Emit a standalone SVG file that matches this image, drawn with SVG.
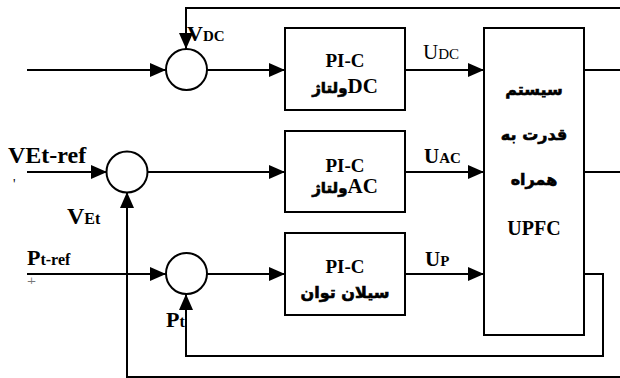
<svg xmlns="http://www.w3.org/2000/svg" width="620" height="378" viewBox="0 0 620 378">
<style>
.ln{fill:none;stroke:#000;stroke-width:2}
.bx{fill:#fff;stroke:#000;stroke-width:2}
.sum{fill:#fff;stroke:#000;stroke-width:2}
.t{font-family:'Liberation Serif','DejaVu Sans',serif;font-weight:bold;fill:#000}
.fa{font-family:'DejaVu Sans','Liberation Serif',sans-serif;font-weight:bold;fill:#000;stroke:#000;stroke-width:0.6}
.r{font-weight:normal}
</style>
<defs>
<marker id="ah" markerUnits="userSpaceOnUse" markerWidth="16" markerHeight="14" refX="16" refY="7" orient="auto">
<path d="M0,0 L16,7 L0,14 z" fill="#000"/>
</marker>
<clipPath id="pc"><rect x="20" y="276" width="30" height="8"/></clipPath>
</defs>
<rect width="620" height="378" fill="#fff"/>
<g id="connectors">
<path class="ln" d="M27,70 H166" marker-end="url(#ah)"/>
<path class="ln" d="M207,70 H285" marker-end="url(#ah)"/>
<path class="ln" d="M405,70 H484" marker-end="url(#ah)"/>
<path class="ln" d="M584,70 H620"/>
<path class="ln" d="M620,8 H186 V49" marker-end="url(#ah)"/>
<path class="ln" d="M27,172 H107" marker-end="url(#ah)"/>
<path class="ln" d="M147,172 H285" marker-end="url(#ah)"/>
<path class="ln" d="M405,172 H484" marker-end="url(#ah)"/>
<path class="ln" d="M584,172 H620"/>
<path class="ln" d="M620,377 H127 V192" marker-end="url(#ah)"/>
<path class="ln" d="M27,274 H166" marker-end="url(#ah)"/>
<path class="ln" d="M207,274 H285" marker-end="url(#ah)"/>
<path class="ln" d="M405,274 H484" marker-end="url(#ah)"/>
<path class="ln" d="M584,274 H603 V356 H186 V294" marker-end="url(#ah)"/>
</g>
<g id="sum-dc"><circle class="sum" cx="186.5" cy="69.5" r="20.5"/></g>
<g id="sum-ac"><circle class="sum" cx="127" cy="172" r="20.5"/></g>
<g id="sum-p"><circle class="sum" cx="186.5" cy="273.5" r="20.5"/></g>
<g id="pi-dc">
<rect class="bx" x="285" y="28" width="120" height="82"/>
<text class="t" x="345" y="67" font-size="19" text-anchor="middle">PI-C</text>
<text class="t" x="345" y="93" text-anchor="middle" direction="rtl"><tspan font-size="21">DC</tspan><tspan class="fa" font-size="15">ولتاژ</tspan></text>
</g>
<g id="pi-ac">
<rect class="bx" x="285" y="131" width="120" height="81"/>
<text class="t" x="345" y="172" font-size="19" text-anchor="middle">PI-C</text>
<text class="t" x="345" y="193" text-anchor="middle" direction="rtl"><tspan font-size="21">AC</tspan><tspan class="fa" font-size="15">ولتاژ</tspan></text>
</g>
<g id="pi-p">
<rect class="bx" x="285" y="233" width="120" height="82"/>
<text class="t" x="345" y="273" font-size="19" text-anchor="middle">PI-C</text>
<text class="fa" x="345" y="298" font-size="16" text-anchor="middle" direction="rtl">سیلان توان</text>
</g>
<g id="upfc">
<rect class="bx" x="484" y="28" width="100" height="307"/>
<text class="fa" x="534" y="95" font-size="16" text-anchor="middle" direction="rtl">سیستم</text>
<text class="fa" x="534" y="140" font-size="16" text-anchor="middle" direction="rtl">قدرت به</text>
<text class="fa" x="534" y="185" font-size="16" text-anchor="middle" direction="rtl">همراه</text>
<text class="t" x="534" y="235" font-size="20" text-anchor="middle">UPFC</text>
</g>
<g id="labels">
<text class="t" x="187" y="41" font-size="22">V<tspan font-size="15">DC</tspan></text>
<text class="t" x="8" y="163" font-size="24">VEt-ref</text>
<text class="t r" x="13" y="189" font-size="14">'</text>
<text class="t" x="67" y="224" font-size="24">V<tspan font-size="16">Et</tspan></text>
<text class="t" x="27" y="265" font-size="22">P<tspan font-size="16">t-ref</tspan></text>
<text class="t r" x="27" y="287" font-size="16" style="fill:#777" clip-path="url(#pc)">+</text>
<text class="t" x="166" y="327" font-size="22">P<tspan font-size="16">t</tspan></text>
<text class="t r" x="423" y="59" font-size="21">U<tspan font-size="15">DC</tspan></text>
<text class="t" x="424" y="163" font-size="21">U<tspan font-size="15">AC</tspan></text>
<text class="t" x="425" y="266" font-size="21">U<tspan font-size="15">P</tspan></text>
</g>
</svg>
